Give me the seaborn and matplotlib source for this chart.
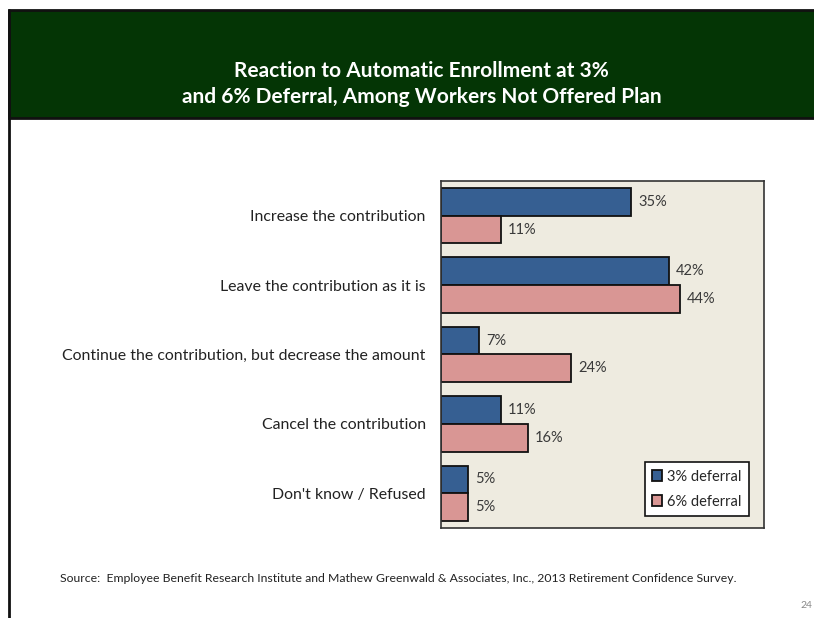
import pandas as pd
import matplotlib.pyplot as plt
import seaborn as sns
from matplotlib.patches import Rectangle

# data
categories = [
    "Increase the contribution",
    "Leave the contribution as it is",
    "Continue the contribution, but decrease the amount",
    "Cancel the contribution",
    "Don't know / Refused",
]
series_names = ["3% deferral", "6% deferral"]
deferral_3 = [35, 42, 7, 11, 5]
deferral_6 = [11, 44, 24, 16, 5]

df = pd.DataFrame({
    "category": categories * 2,
    "pct": deferral_3 + deferral_6,
    "series": [series_names[0]] * 5 + [series_names[1]] * 5,
})

sns.set_style("white")
plt.rcParams["font.family"] = ["Lato", "DejaVu Sans"]

fig = plt.figure(figsize=(8.14, 6.18), dpi=100)

# header band
fig.patches.append(Rectangle((9 / 814, 1 - 118 / 618), 1, 108 / 618,
                             transform=fig.transFigure, facecolor="#043505",
                             edgecolor="#111111", linewidth=2, zorder=0))
fig.add_artist(plt.Line2D([9 / 814, 9 / 814], [0, 1 - 10 / 618],
                          transform=fig.transFigure, color="#111111", lw=2))
fig.text(0.518, 1 - 84 / 618,
         "Reaction to Automatic Enrollment at 3%\nand 6% Deferral, Among Workers Not Offered Plan",
         ha="center", va="center", color="white", fontsize=15, fontweight="bold",
         linespacing=1.4)

ax = fig.add_axes([441 / 814, 1 - 528 / 618, 323 / 814, 347 / 618])
sns.barplot(data=df, y="category", x="pct", hue="series", orient="h",
            palette=["#365F92", "#D99694"], width=0.8, ax=ax,
            edgecolor="#111111", linewidth=1.3, saturation=1)

for cont in ax.containers:
    ax.bar_label(cont, labels=[f"{int(v)}%" for v in cont.datavalues],
                 padding=5, fontsize=10.5, color="#3a3a3a")

ax.set_facecolor("#EEEBE0")
ax.set_xlim(0, 59.5)
ax.set_xticks([])
ax.set_xlabel("")
ax.set_ylabel("")
ax.tick_params(axis="y", length=0, pad=11, labelsize=11.4, labelcolor="#222222")
for s in ax.spines.values():
    s.set_color("#333333")
    s.set_linewidth(1.2)

leg = ax.legend(loc="lower right", bbox_to_anchor=(0.954, 0.035), frameon=True,
                fontsize=10.5, handlelength=0.7, handleheight=0.7, handletextpad=0.35,
                borderpad=0.5, labelspacing=0.75, borderaxespad=0, fancybox=False)
leg.get_frame().set_edgecolor("#111111")
leg.get_frame().set_linewidth(1.2)
leg.get_frame().set_facecolor("white")
leg.get_frame().set_alpha(1)

fig.text(60 / 814, 1 - 578 / 618,
         "Source:  Employee Benefit Research Institute and Mathew Greenwald & Associates, Inc., 2013 Retirement Confidence Survey.",
         ha="left", va="center", fontsize=8.8, color="#222222")
fig.text(812 / 814, 1 - 606 / 618, "24", ha="right", va="center", fontsize=7.5, color="#888888")

fig.savefig("out.png", dpi=100)
